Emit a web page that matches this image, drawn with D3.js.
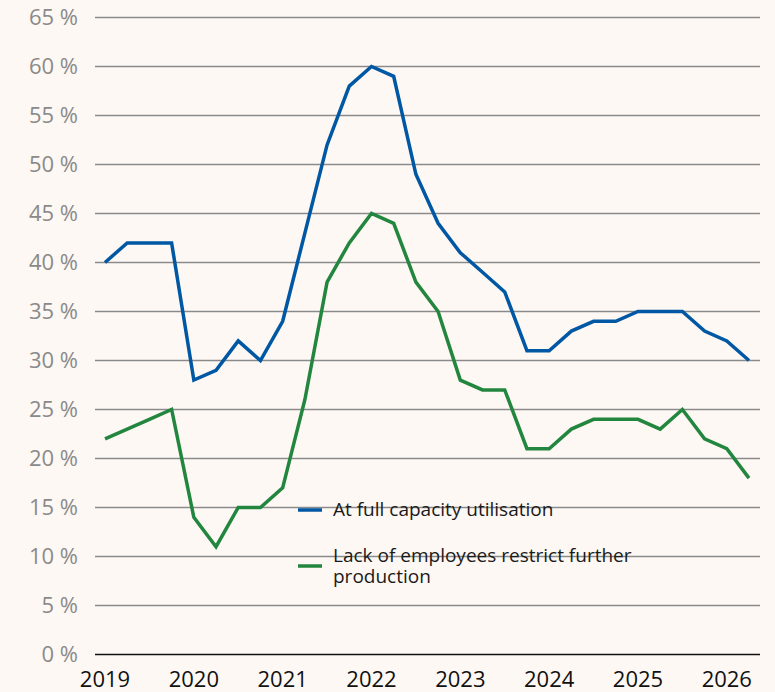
<!DOCTYPE html>
<html>
<head>
<meta charset="utf-8">
<script src="https://cdn.jsdelivr.net/npm/d3@7"></script>
<style>
  html, body { margin: 0; padding: 0; background: #fdf8f4; }
  svg { display: block; }
  text { font-family: "Open Sans", "Noto Sans", sans-serif; }
</style>
</head>
<body>
<svg width="775" height="692"></svg>
<script>
// quarterly, 2019 Q1 .. 2026 Q2
const quarters = d3.range(30);
const yearLabels = ["2019", "2020", "2021", "2022", "2023", "2024", "2025", "2026"];
const yTicks = [0, 5, 10, 15, 20, 25, 30, 35, 40, 45, 50, 55, 60, 65];

const fullCapacity = [40, 42, 42, 42, 28, 29, 32, 30, 34, 43, 52, 58, 60, 59, 49, 44,
                      41, 39, 37, 31, 31, 33, 34, 34, 35, 35, 35, 33, 32, 30];
const lackEmployees = [22, 23, 24, 25, 14, 11, 15, 15, 17, 26, 38, 42, 45, 44, 38, 35,
                       28, 27, 27, 21, 21, 23, 24, 24, 24, 23, 25, 22, 21, 18];

const seriesNames = ["At full capacity utilisation", "Lack of employees restrict further production"];
const seriesColors = ["#0057a4", "#22863f"];

const svg = d3.select("svg");

const x = d3.scaleLinear().domain([0, 29]).range([105, 749]);
const y = d3.scaleLinear().domain([0, 65]).range([654.5, 17.5]);

// grid lines
svg.append("g")
   .selectAll("line")
   .data(yTicks)
   .enter()
   .append("line")
   .attr("x1", 95)
   .attr("x2", 760)
   .attr("y1", d => y(d))
   .attr("y2", d => y(d))
   .attr("stroke", d => d === 0 ? "#111" : "#8a8a8a")
   .attr("stroke-width", 1.5);

// y labels
svg.append("g")
   .selectAll("text")
   .data(yTicks)
   .enter()
   .append("text")
   .attr("x", 78)
   .attr("y", d => y(d))
   .attr("dy", "0.35em")
   .attr("text-anchor", "end")
   .attr("fill", "#8a8a8a")
   .style("font-size", "22px")
   .text(d => d + " %");

// x labels, one per year at Q1
svg.append("g")
   .selectAll("text")
   .data(yearLabels)
   .enter()
   .append("text")
   .attr("x", (d, i) => x(i * 4))
   .attr("y", 687)
   .attr("text-anchor", "middle")
   .attr("fill", "#111")
   .style("font-size", "22px")
   .text(d => d);

const line = d3.line()
               .x((d, i) => x(quarters[i]))
               .y(d => y(d));

[fullCapacity, lackEmployees].forEach((vals, i) => {
  svg.append("path")
     .datum(vals)
     .attr("d", line)
     .attr("fill", "none")
     .attr("stroke", seriesColors[i])
     .attr("stroke-width", 3.5)
     .attr("stroke-linejoin", "miter");
});

// legend
const legend = svg.append("g");
legend.append("line")
      .attr("x1", 298).attr("x2", 322).attr("y1", 510).attr("y2", 510)
      .attr("stroke", seriesColors[0]).attr("stroke-width", 3.5);
legend.append("text")
      .attr("x", 333).attr("y", 516)
      .attr("fill", "#1a1a1a")
      .style("font-size", "19px")
      .text(seriesNames[0]);

legend.append("line")
      .attr("x1", 298).attr("x2", 322).attr("y1", 566).attr("y2", 566)
      .attr("stroke", seriesColors[1]).attr("stroke-width", 3.5);
const t2 = legend.append("text")
      .attr("x", 333).attr("y", 562)
      .attr("fill", "#1a1a1a")
      .style("font-size", "19px");
t2.append("tspan").attr("x", 333).text("Lack of employees restrict further");
t2.append("tspan").attr("x", 333).attr("dy", 21).text("production");
</script>
</body>
</html>
